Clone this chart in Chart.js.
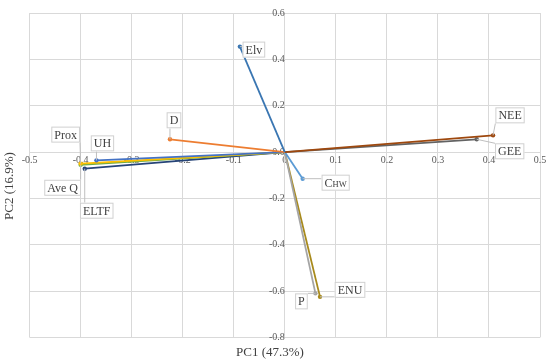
<!DOCTYPE html>
<html>
<head>
<meta charset="utf-8">
<script src="https://cdn.jsdelivr.net/npm/chart.js@4.4.1/dist/chart.umd.min.js"></script>
<style>
  html, body { margin: 0; padding: 0; background: #fff; }
  #wrap { width: 550px; height: 364px; }
</style>
</head>
<body>
<div id="wrap"><canvas id="pcaChart"></canvas></div>
<script>
// PCA loadings
const variables = ['Elv', 'D', 'NEE', 'GEE', 'C_HW', 'P', 'ENU', 'UH', 'Prox', 'Ave Q', 'ELTF'];
const pc1 = [-0.088, -0.225, 0.408, 0.376, 0.035, 0.060, 0.069, -0.369, -0.400, -0.400, -0.392];
const pc2 = [0.455, 0.055, 0.072, 0.055, -0.115, -0.610, -0.625, -0.036, -0.050, -0.055, -0.072];

const colors = ['#3a76b2', '#ed7d31', '#9e480e', '#636363', '#5b9bd5', '#a5a5a5', '#a88a1c',
                '#4472c4', '#ffc000', '#70ad47', '#264478'];
// where each label box sits relative to its arrow tip (px)
const labelOffsets = [[14, 3], [4, -19], [17, -20], [33, 12], [33, 4], [-14, 8], [30, -7],
                      [6, -17], [-15, -29], [-18, 23], [12, 42]];

const serif = "'Liberation Serif', 'Times New Roman', serif";

// labels in little white boxes with a grey leader line
const vectorLabels = {
    id: 'vectorLabels',
    afterDatasetsDraw(chart) {
        const ctx = chart.ctx;
        ctx.save();
        chart.data.datasets.forEach((ds, i) => {
            const tip = chart.getDatasetMeta(i).data[1];
            const cx = tip.x + labelOffsets[i][0];
            const cy = tip.y + labelOffsets[i][1];
            let parts = ds.label.split('_');
            ctx.font = '12px ' + serif;
            let w = ctx.measureText(parts[0]).width;
            if (parts[1]) {
                ctx.font = '8.5px ' + serif;
                w += ctx.measureText(parts[1]).width;
            }
            const bw = w + 6, bh = 16;
            const bx = cx - bw / 2, by = cy - bh / 2;

            // leader to nearest point of the box
            const nx = Math.min(Math.max(tip.x, bx), bx + bw);
            const ny = Math.min(Math.max(tip.y, by), by + bh);
            ctx.strokeStyle = '#bfbfbf';
            ctx.lineWidth = 1;
            ctx.beginPath();
            ctx.moveTo(tip.x, tip.y);
            ctx.lineTo(nx, ny);
            ctx.stroke();

            ctx.fillStyle = '#fff';
            ctx.fillRect(bx, by, bw, bh);
            ctx.strokeStyle = '#d0d0d0';
            ctx.strokeRect(bx + 0.5, by + 0.5, bw - 1, bh - 1);

            ctx.fillStyle = '#404040';
            ctx.textBaseline = 'alphabetic';
            ctx.textAlign = 'left';
            ctx.font = '12px ' + serif;
            ctx.fillText(parts[0], bx + 3, cy + 4);
            if (parts[1]) {
                const w0 = ctx.measureText(parts[0]).width;
                ctx.font = '8.5px ' + serif;
                ctx.fillText(parts[1], bx + 3 + w0, cy + 4);
            }
        });
        ctx.restore();
    }
};

const datasets = variables.map((name, i) => ({
    label: name,
    data: [{ x: 0, y: 0 }, { x: pc1[i], y: pc2[i] }],
    showLine: true,
    borderColor: colors[i],
    backgroundColor: colors[i],
    borderWidth: 1.8,
    pointRadius: [0, 2.2],
    pointBorderWidth: 0
}));

const tickFont = { family: serif, size: 10 };
const gridColor = '#d9d9d9';

new Chart(document.getElementById('pcaChart'), {
    type: 'scatter',
    data: { datasets: datasets },
    options: {
        responsive: true,
        maintainAspectRatio: false,
        animation: false,
        layout: { padding: { top: 8, right: 10, left: 0, bottom: 0 } },
        scales: {
            x: {
                type: 'linear',
                min: -0.5,
                max: 0.5,
                position: { y: 0 },
                grid: { color: gridColor, drawTicks: false },
                border: { color: gridColor },
                ticks: { stepSize: 0.1, font: tickFont, color: '#595959', padding: 2 }
            },
            y: {
                type: 'linear',
                min: -0.8,
                max: 0.6,
                position: { x: 0 },
                grid: { color: gridColor, drawTicks: false },
                border: { color: gridColor },
                ticks: { stepSize: 0.2, font: tickFont, color: '#595959', padding: 7 }
            }
        },
        plugins: {
            legend: { display: false },
            tooltip: { enabled: false },
            title: {
                display: true,
                text: 'PC1 (47.3%)',
                position: 'bottom',
                color: '#404040',
                font: { family: serif, size: 13, weight: 'normal' },
                padding: { top: 7, bottom: 4 }
            },
            subtitle: {
                display: true,
                text: 'PC2 (16.9%)',
                position: 'left',
                color: '#404040',
                font: { family: serif, size: 13, weight: 'normal' },
                padding: { top: 2, bottom: 12 }
            }
        }
    },
    plugins: [vectorLabels]
});
</script>
</body>
</html>
